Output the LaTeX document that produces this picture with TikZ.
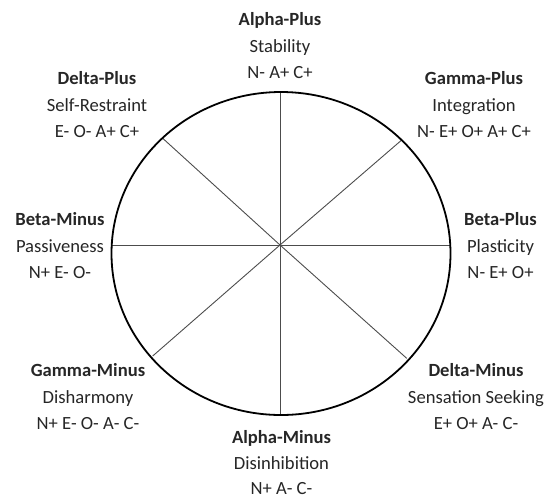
\documentclass[tikz,border=0pt]{standalone}
\usepackage{fontspec}
\setmainfont{Carlito}
\begin{document}
\begin{tikzpicture}[x=1pt,y=-1pt,
  rim/.style={line width=1.8pt,black},
  spoke/.style={line width=0.9pt,black!70},
  lab/.style={align=center,inner sep=0pt,font=\fontsize{18.6}{26.5}\selectfont,text=black!85}]
\useasboundingbox (0,0) rectangle (546,499);
\coordinate (c) at (281,253.5);
\coordinate (hub) at (280,245);
\coordinate (pT) at (280,92);
\coordinate (pB) at (280,415);
\coordinate (pL) at (111.5,245);
\coordinate (pR) at (450.5,245);
\coordinate (pUL) at (162.7,138.3);
\coordinate (pUR) at (401.7,140);
\coordinate (pLL) at (152.7,356);
\coordinate (pLR) at (406.7,358.3);
\foreach \p in {pT,pB,pL,pR,pUL,pUR,pLL,pLR} \draw[spoke] (hub) -- (\p);
\draw[rim] (c) ellipse [x radius=169.5, y radius=161.5];
\node[lab] (ap) at (280,46) {\textbf{Alpha-Plus}\\Stability\\N- A+ C+};
\node[lab] (dp) at (97,105) {\textbf{Delta-Plus}\\Self-Restraint\\E- O- A+ C+};
\node[lab] (gp) at (474,105) {\textbf{Gamma-Plus}\\Integration\\N- E+ O+ A+ C+};
\node[lab] (bm) at (60,246) {\textbf{Beta-Minus}\\Passiveness\\N+ E- O-};
\node[lab] (bp) at (500.5,246) {\textbf{Beta-Plus}\\Plasticity\\N- E+ O+};
\node[lab] (gm) at (88,397) {\textbf{Gamma-Minus}\\Disharmony\\N+ E- O- A- C-};
\node[lab] (dm) at (476,397) {\textbf{Delta-Minus}\\Sensation Seeking\\E+ O+ A- C-};
\node[lab,font=\fontsize{18.6}{25.5}\selectfont] (am) at (281.5,463) {\textbf{Alpha-Minus}\\Disinhibition\\N+ A- C-};
\end{tikzpicture}
\end{document}
